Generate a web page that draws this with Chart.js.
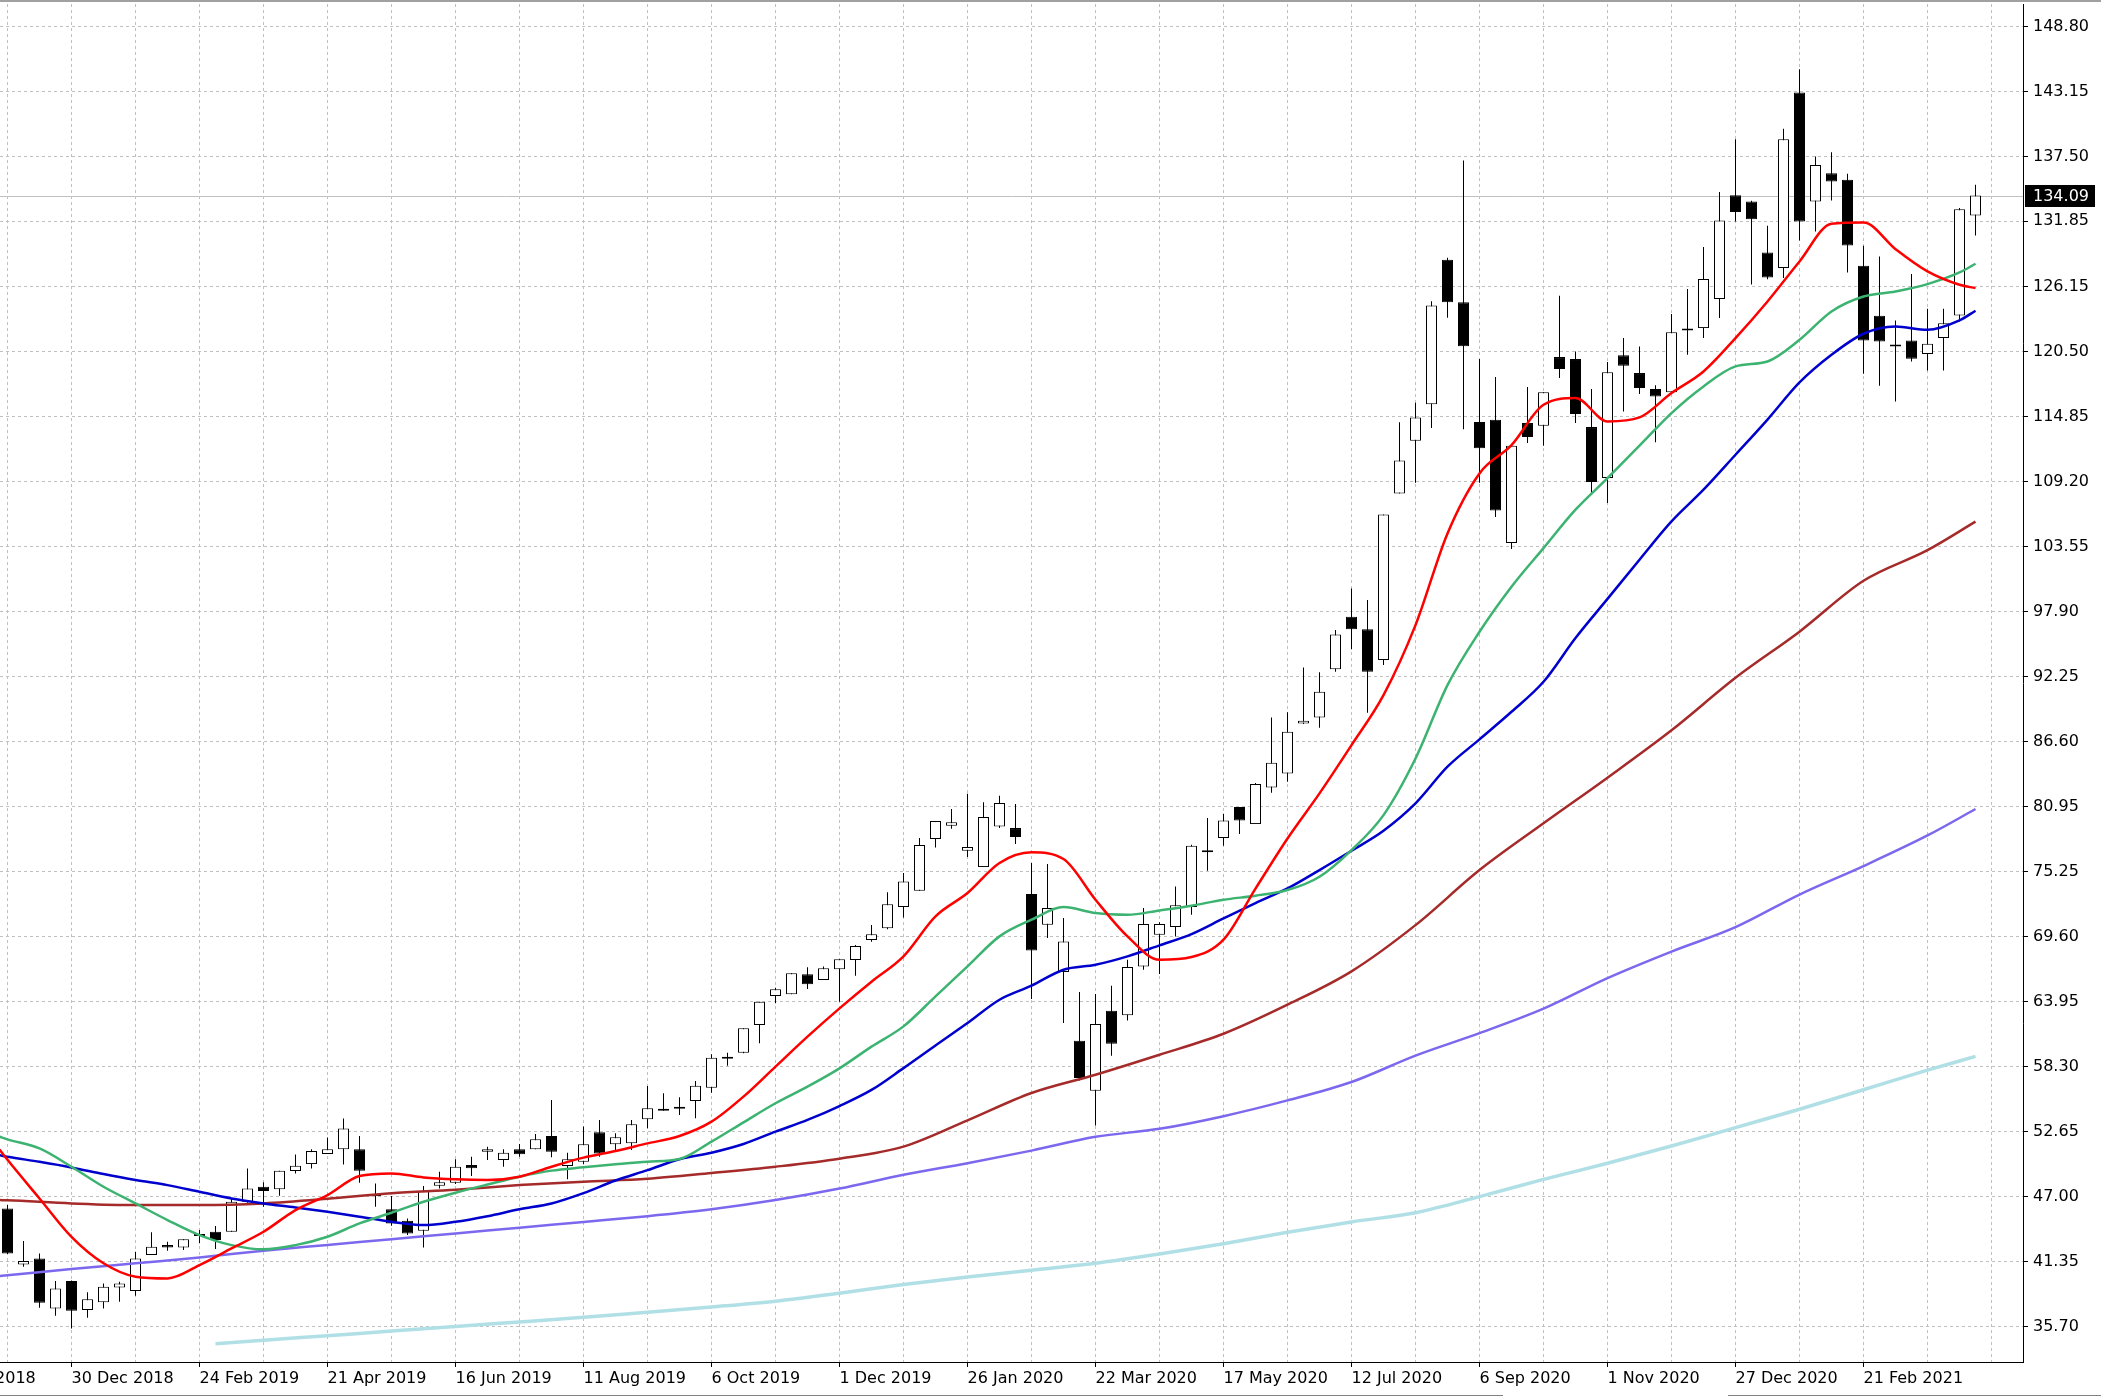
<!DOCTYPE html>
<html>
<head>
<meta charset="utf-8">
<title>Weekly candles with moving averages</title>
<script src="https://cdn.jsdelivr.net/npm/chart.js@4.4.1/dist/chart.umd.min.js"></script>
<style>
  html, body { margin: 0; padding: 0; background: #fff; overflow: hidden; }
  #wrap { position: relative; width: 2101px; height: 1398px; }
</style>
</head>
<body>
<div id="wrap"><canvas id="chart" width="2101" height="1398"></canvas></div>
<script>
// weekly bars, bar 0 = week of 2 Dec 2018, last bar = week of 11 Apr 2021
const opens = [
  45.97, 41.10, 41.62, 37.27, 39.65, 37.13, 37.80, 39.10, 38.78, 41.91,
  42.78, 42.58, 43.57, 43.94, 43.94, 46.55, 47.86, 47.63, 49.22, 49.83,
  50.70, 51.11, 51.11, 47.05, 45.89, 44.90, 44.03, 47.95, 48.21, 49.75,
  50.91, 50.18, 51.11, 51.11, 52.27, 49.66, 50.04, 52.59, 51.55, 51.64,
  53.72, 54.59, 54.65, 55.32, 56.48, 59.00, 59.52, 61.93, 64.45, 64.60,
  66.34, 65.85, 66.77, 67.59, 69.33, 70.34, 72.19, 73.61, 78.11, 79.27,
  77.09, 75.67, 79.21, 79.06, 73.32, 70.65, 66.54, 60.56, 56.21, 63.17,
  62.77, 67.03, 69.78, 70.45, 72.19, 77.05, 78.19, 80.89, 79.41, 82.60,
  83.82, 88.17, 88.69, 92.87, 97.45, 96.35, 93.68, 108.18, 112.76, 115.94,
  128.51, 124.82, 114.40, 114.59, 103.86, 114.30, 114.07, 120.04, 119.87, 113.95,
  109.51, 120.19, 118.65, 117.26, 116.99, 122.35, 122.56, 125.09, 134.11, 133.58,
  129.14, 127.78, 143.06, 133.58, 136.04, 135.46, 127.98, 123.63, 121.05, 121.49,
  120.30, 121.69, 123.66, 132.36
];
const highs = [
  46.26, 43.13, 42.06, 39.65, 39.70, 38.67, 39.45, 39.59, 42.20, 43.89,
  43.07, 43.28, 44.09, 44.44, 46.84, 49.45, 48.24, 49.25, 50.67, 51.11,
  52.15, 53.80, 52.27, 48.15, 47.05, 45.10, 47.92, 49.16, 50.24, 50.47,
  51.34, 51.11, 51.58, 52.45, 55.41, 50.82, 53.09, 53.67, 52.51, 53.67,
  56.62, 55.99, 55.64, 57.06, 59.38, 59.52, 61.64, 63.96, 65.18, 66.43,
  66.95, 67.01, 67.64, 68.89, 70.63, 73.47, 75.15, 78.19, 79.67, 80.72,
  82.05, 81.30, 81.88, 81.15, 76.02, 75.93, 71.23, 64.80, 64.62, 65.35,
  67.61, 72.10, 70.86, 73.99, 77.61, 79.94, 80.31, 80.89, 82.98, 88.69,
  89.13, 93.04, 92.61, 96.29, 99.91, 98.90, 106.35, 114.36, 116.07, 124.89,
  128.69, 137.14, 119.87, 118.30, 112.33, 117.43, 116.97, 125.38, 120.53, 117.26,
  119.61, 121.69, 120.97, 117.58, 123.78, 125.96, 129.61, 134.40, 139.00, 133.64,
  131.46, 139.90, 145.09, 137.50, 137.87, 135.99, 129.72, 128.79, 123.23, 127.26,
  124.24, 124.24, 133.00, 135.03
];
const lows = [
  42.00, 40.90, 37.33, 36.63, 35.53, 36.46, 37.27, 37.85, 38.38, 41.91,
  42.29, 42.35, 42.94, 42.44, 43.94, 46.47, 46.12, 47.08, 49.02, 49.45,
  50.70, 49.80, 48.21, 46.12, 44.47, 43.65, 42.58, 47.71, 48.09, 48.79,
  50.18, 49.60, 50.47, 51.11, 50.42, 48.50, 49.84, 50.47, 51.05, 51.05,
  52.94, 54.48, 54.10, 53.81, 56.04, 58.39, 59.47, 60.34, 63.82, 64.60,
  65.06, 65.85, 63.96, 66.22, 69.18, 70.25, 71.29, 73.61, 77.38, 79.01,
  76.54, 75.67, 79.06, 77.67, 64.19, 69.49, 62.10, 57.11, 53.19, 59.26,
  62.33, 66.74, 66.36, 69.64, 71.52, 75.35, 77.53, 78.54, 79.41, 82.14,
  83.09, 88.11, 87.79, 92.66, 94.61, 89.09, 93.24, 108.18, 109.11, 113.88,
  123.47, 113.77, 109.10, 106.12, 103.34, 112.56, 112.33, 118.21, 114.30, 108.15,
  107.34, 115.31, 116.82, 112.64, 116.99, 120.24, 121.69, 123.43, 131.84, 126.36,
  126.82, 126.91, 130.19, 130.97, 133.67, 127.40, 118.59, 117.54, 116.18, 119.66,
  118.88, 118.88, 123.14, 130.62
];
const closes = [
  42.06, 41.39, 37.77, 39.01, 37.07, 38.06, 39.16, 39.45, 41.62, 42.64,
  42.58, 43.28, 43.74, 43.22, 46.55, 47.71, 47.48, 49.25, 49.69, 50.96,
  51.11, 52.93, 49.25, 47.19, 44.67, 43.80, 47.48, 48.24, 49.60, 49.46,
  51.11, 50.82, 50.68, 51.98, 50.91, 50.24, 51.55, 50.76, 52.16, 53.29,
  54.68, 54.48, 54.75, 56.65, 59.09, 59.10, 61.64, 63.96, 65.03, 66.43,
  65.47, 66.86, 67.64, 68.80, 69.82, 72.43, 74.42, 77.59, 79.67, 79.56,
  77.41, 80.02, 81.24, 78.28, 68.42, 72.10, 69.20, 57.31, 62.01, 60.30,
  66.97, 70.71, 70.71, 72.34, 77.53, 76.95, 79.73, 79.73, 82.89, 84.75,
  87.44, 88.40, 90.92, 95.91, 96.35, 92.66, 106.35, 111.05, 114.79, 124.53,
  124.82, 120.98, 112.11, 106.70, 112.33, 113.08, 116.97, 119.00, 115.08, 109.17,
  118.71, 119.29, 117.34, 116.62, 122.19, 122.45, 126.83, 131.93, 132.66, 132.04,
  126.97, 139.00, 131.84, 136.74, 135.32, 129.75, 121.49, 121.40, 120.95, 119.89,
  121.20, 122.99, 132.91, 134.09
];

// moving averages (x = bar number)
const fastWeeks = [-0.5, 0, 2, 4, 6, 8, 10, 12, 14, 16, 18, 20, 22, 24, 26, 28, 30, 32, 34, 36, 38,
  40, 42, 44, 46, 48, 50, 52, 54, 56, 58, 60, 62, 64, 66, 68, 70, 72, 74, 76, 78, 80, 82, 84,
  86, 88, 90, 92, 94, 96, 98, 100, 102, 104, 106, 108, 110, 112, 114, 116, 118, 120, 122, 123];
const redMA = [51.1, 50.2, 46.84, 43.5, 41.2, 40.03, 39.88, 41.04, 42.49, 43.94, 45.83, 47.13, 48.79,
  49.02, 48.67, 48.5, 48.44, 48.73, 49.6, 50.39, 50.97, 51.63, 52.27, 53.52, 55.7, 58.31, 60.92,
  63.38, 65.7, 67.9, 71.38, 73.41, 76.02, 76.95, 76.37, 72.83, 69.64, 67.61, 67.84, 69.35, 73.8,
  78.16, 82.08, 86.28, 90.63, 96.72, 104.7, 109.92, 112.38, 115.89, 116.47, 114.44, 114.79,
  116.91, 118.79, 121.69, 124.88, 128.36, 131.64, 131.75, 129.43, 127.49, 126.33, 126.04];
const greenMA = [52.21, 51.98, 51.19, 49.6, 47.86, 46.41, 44.96, 43.65, 42.78, 42.41, 42.78, 43.51,
  44.67, 45.6, 46.55, 47.34, 48.05, 48.73, 49.26, 49.55, 49.81, 50.04, 50.27, 51.78, 53.46, 55.12,
  56.57, 58.16, 60.05, 61.81, 64.42, 67.03, 69.64, 71.09, 72.19, 71.67, 71.52, 71.9, 72.31, 72.83,
  73.18, 73.67, 74.83, 77.15, 80.19, 85.12, 91.5, 96.14, 100.06, 103.42, 106.76, 109.51, 112.33,
  115.17, 117.49, 119.23, 119.66, 121.54, 124.01, 125.31, 125.75, 126.39, 127.4, 128.16];
const blueMA = [50.61, 50.47, 50.03, 49.54, 48.96, 48.44, 48.0, 47.42, 46.84, 46.41, 46.06, 45.68,
  45.25, 44.81, 44.52, 44.81, 45.3, 45.9, 46.4, 47.3, 48.4, 49.3, 50.25, 50.82, 51.58, 52.65,
  53.67, 54.88, 56.28, 58.18, 60.15, 62.1, 64.13, 65.35, 66.74, 67.17, 67.9, 68.86, 69.84, 71.2,
  72.54, 73.81, 75.41, 77.09, 78.83, 81.21, 84.4, 86.78, 89.18, 91.79, 95.6, 99.0, 102.41,
  105.74, 108.5, 111.54, 114.6, 117.83, 120.24, 122.07, 122.7, 122.41, 123.23, 124.07];

const slowWeeks = [-0.5, 0, 4, 8, 12, 16, 20, 24, 28, 32, 36, 40, 44, 48, 52, 56, 60, 64, 68, 72,
  76, 80, 84, 88, 92, 96, 100, 104, 108, 112, 116, 120, 123];
const brownMA = [46.7, 46.68, 46.41, 46.26, 46.26, 46.41, 46.81, 47.3, 47.6, 48.0, 48.3, 48.55,
  49.05, 49.6, 50.3, 51.35, 53.63, 56.01, 57.6, 59.34, 61.17, 63.7, 66.6, 70.62, 75.41, 79.48,
  83.45, 87.57, 92.14, 96.15, 100.58, 103.24, 105.72];
const purpleMA = [40.09, 40.15, 40.7, 41.2, 41.7, 42.3, 42.8, 43.3, 43.8, 44.3, 44.8, 45.3, 45.9,
  46.7, 47.7, 48.9, 49.9, 51.0, 52.2, 52.9, 54.0, 55.37, 56.97, 59.27, 61.22, 63.35, 66.01,
  68.32, 70.44, 73.28, 75.76, 78.42, 80.72];

const cyanWeeks = [13, 16, 20, 24, 28, 32, 36, 40, 44, 48, 52, 56, 60, 64, 68, 72, 76, 80, 84, 88,
  92, 96, 100, 104, 108, 112, 116, 120, 123];
const cyanMA = [34.2, 34.5, 34.9, 35.3, 35.7, 36.1, 36.5, 36.95, 37.4, 37.9, 38.6, 39.35, 40.0,
  40.6, 41.2, 42.0, 42.9, 43.9, 44.8, 45.6, 47.0, 48.5, 49.9, 51.4, 53.0, 54.6, 56.3, 58.0, 59.2];

// axes
const yTickLabels = ['148.80', '143.15', '137.50', '131.85', '126.15', '120.50', '114.85',
  '109.20', '103.55', '97.90', '92.25', '86.60', '80.95', '75.25', '69.60', '63.95', '58.30',
  '52.65', '47.00', '41.35', '35.70'];
const xTickWeeks = [-4, 4, 12, 20, 28, 36, 44, 52, 60, 68, 76, 84, 92, 100, 108, 116];
const xTickLabels = ['4 Nov 2018', '30 Dec 2018', '24 Feb 2019', '21 Apr 2019', '16 Jun 2019',
  '11 Aug 2019', '6 Oct 2019', '1 Dec 2019', '26 Jan 2020', '22 Mar 2020', '17 May 2020',
  '12 Jul 2020', '6 Sep 2020', '1 Nov 2020', '27 Dec 2020', '21 Feb 2021'];
const gridWeeks = [-4, 0, 4, 8, 12, 16, 20, 24, 28, 32, 36, 40, 44, 48, 52, 56, 60, 64, 68, 72,
  76, 80, 84, 88, 92, 96, 100, 104, 108, 112, 116, 120, 124];

const lastPrice = closes[closes.length - 1];

function pts(xs, ys) {
  return xs.map((x, i) => ({ x: x, y: ys[i] }));
}

function maLine(data, color, width) {
  return {
    type: 'line',
    data: data,
    borderColor: color,
    borderWidth: width,
    pointRadius: 0,
    cubicInterpolationMode: 'monotone',
    fill: false,
    order: 0
  };
}

const priceTag = {
  id: 'priceTag',
  beforeDatasetsDraw(chart) {
    const { ctx, chartArea, scales } = chart;
    const py = Math.round(scales.y.getPixelForValue(lastPrice)) + 0.5;
    ctx.save();
    ctx.strokeStyle = '#c0c0c0';
    ctx.lineWidth = 1;
    ctx.beginPath();
    ctx.moveTo(chartArea.left, py);
    ctx.lineTo(chartArea.right, py);
    ctx.stroke();
    ctx.restore();
  },
  afterDraw(chart) {
    const { ctx, chartArea, scales } = chart;
    const py = Math.round(scales.y.getPixelForValue(lastPrice));
    ctx.save();
    ctx.fillStyle = '#000';
    ctx.fillRect(chartArea.right + 2, py - 11, 70, 22);
    ctx.fillStyle = '#fff';
    ctx.font = '16px "DejaVu Sans"';
    ctx.textBaseline = 'middle';
    ctx.fillText(lastPrice.toFixed(2), chartArea.right + 10, py + 1);
    // window frame bits
    ctx.fillStyle = '#a0a0a0';
    ctx.fillRect(0, 0, chart.width, 2);
    ctx.fillStyle = '#808080';
    ctx.fillRect(0, chart.height - 3, 1503, 1);
    ctx.fillRect(1728, chart.height - 3, chart.width - 1728, 1);
    ctx.restore();
  }
};

Chart.defaults.font.family = '"DejaVu Sans", sans-serif';
Chart.defaults.font.size = 16;
Chart.defaults.color = '#000';

new Chart(document.getElementById('chart'), {
  type: 'bar',
  data: {
    datasets: [
      maLine(pts(fastWeeks, redMA), '#ff0000', 2.5),
      maLine(pts(fastWeeks, greenMA), '#3cb371', 2.5),
      maLine(pts(fastWeeks, blueMA), '#0000cd', 2.5),
      maLine(pts(slowWeeks, brownMA), '#a52a2a', 2.5),
      maLine(pts(slowWeeks, purpleMA), '#7b68ee', 2.5),
      maLine(pts(cyanWeeks, cyanMA), '#b0e0e6', 3.5),
      {
        // candle bodies
        data: opens.map((o, i) => ({ x: i, y: [Math.min(o, closes[i]), Math.max(o, closes[i])] })),
        backgroundColor: opens.map((o, i) => (closes[i] >= o ? '#ffffff' : '#000000')),
        borderColor: '#000',
        borderWidth: 1,
        borderSkipped: false,
        barThickness: 11,
        minBarLength: 2,
        inflateAmount: 0,
        grouped: false,
        order: 1
      },
      {
        // wicks
        data: highs.map((h, i) => ({ x: i, y: [lows[i], h] })),
        backgroundColor: '#000',
        borderWidth: 0,
        barThickness: 1,
        inflateAmount: 0,
        grouped: false,
        order: 2
      }
    ]
  },
  options: {
    responsive: false,
    devicePixelRatio: 1,
    animation: false,
    events: [],
    layout: { padding: { top: 4, left: 0, right: 0, bottom: 0 } },
    plugins: {
      legend: { display: false },
      tooltip: { enabled: false }
    },
    scales: {
      x: {
        type: 'linear',
        offset: false,
        min: -0.46875,
        max: -0.46875 + 2023 / 16,
        afterBuildTicks: (scale) => {
          scale.ticks = gridWeeks.map((v) => ({ value: v }));
        },
        afterFit: (scale) => {
          scale.height = 36;
          scale.paddingLeft = 0;
          scale.paddingRight = 0;
        },
        ticks: {
          autoSkip: false,
          maxRotation: 0,
          align: 'start',
          padding: 2,
          color: '#000',
          callback: (v) => {
            const k = xTickWeeks.indexOf(v);
            return k >= 0 ? xTickLabels[k] : '';
          }
        },
        grid: {
          offset: false,
          color: '#c0c0c0',
          lineWidth: 1,
          tickLength: 5,
          tickColor: (ctx) => (ctx.tick && xTickWeeks.includes(ctx.tick.value) ? '#000' : 'rgba(0,0,0,0)')
        },
        border: { display: true, color: '#000', width: 1, dash: [3, 3] }
      },
      y: {
        type: 'linear',
        position: 'right',
        min: 35.70 - 35.5 / 11.494,
        max: 148.80 + 22.5 / 11.494,
        afterBuildTicks: (scale) => {
          scale.ticks = yTickLabels.map((s) => ({ value: parseFloat(s) }));
        },
        afterFit: (scale) => {
          scale.width = 78;
          scale.paddingTop = 0;
          scale.paddingBottom = 0;
        },
        ticks: {
          padding: 5,
          color: '#000',
          callback: (v, i) => yTickLabels[i]
        },
        grid: {
          color: '#c0c0c0',
          lineWidth: 1,
          tickLength: 5,
          tickColor: '#000'
        },
        border: { display: true, color: '#000', width: 1, dash: [3, 3] }
      }
    }
  },
  plugins: [priceTag]
});
</script>
</body>
</html>
